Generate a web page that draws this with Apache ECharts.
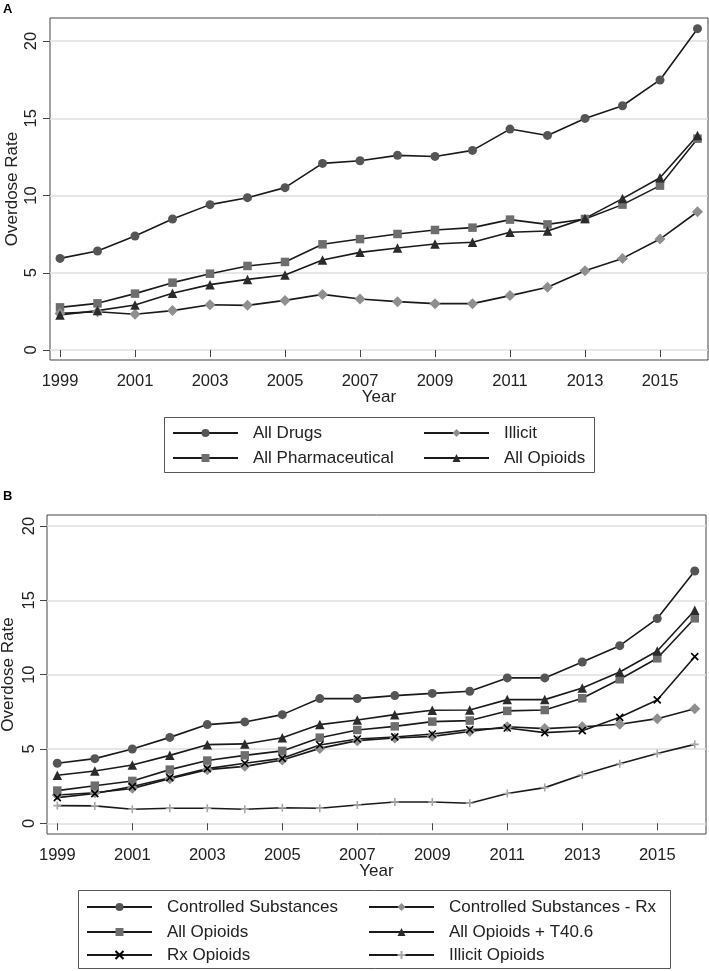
<!DOCTYPE html>
<html><head><meta charset="utf-8">
<script src="https://cdn.jsdelivr.net/npm/echarts@6/dist/echarts.min.js"></script>
<style>html,body{margin:0;padding:0;background:#fff}#c{width:709px;height:971px}</style>
</head><body><div id="c"></div>
<script>
const years = [1999,2000,2001,2002,2003,2004,2005,2006,2007,2008,2009,2010,2011,2012,2013,2014,2015,2016];
const xTickYears = [1999,2001,2003,2005,2007,2009,2011,2013,2015];
const yTickValues = [0,5,10,15,20];

// Panel A
const allDrugs = [5.93,6.41,7.38,8.48,9.41,9.86,10.51,12.08,12.25,12.60,12.53,12.92,14.30,13.89,14.99,15.81,17.48,20.80];
const allPharmaceutical = [2.76,3.02,3.65,4.36,4.94,5.44,5.70,6.84,7.18,7.51,7.77,7.92,8.44,8.13,8.48,9.41,10.64,13.68];
const illicit = [2.37,2.48,2.31,2.55,2.93,2.89,3.21,3.60,3.30,3.13,3.00,3.00,3.52,4.06,5.13,5.93,7.18,8.95];
const allOpioidsA = [2.27,2.55,2.91,3.67,4.23,4.57,4.85,5.83,6.32,6.60,6.86,6.97,7.62,7.70,8.52,9.80,11.15,13.89];

// Panel B
const controlledSubstances = [4.04,4.35,5.00,5.78,6.64,6.82,7.31,8.39,8.39,8.59,8.74,8.88,9.78,9.78,10.85,11.95,13.77,16.97];
const controlledSubstancesRx = [1.90,2.05,2.35,3.00,3.61,3.83,4.26,5.04,5.56,5.74,5.85,6.17,6.50,6.37,6.50,6.66,7.04,7.71];
const allOpioidsB = [2.20,2.53,2.85,3.61,4.22,4.57,4.87,5.76,6.28,6.52,6.84,6.91,7.56,7.62,8.41,9.69,11.10,13.79];
const allOpioidsT406 = [3.23,3.52,3.92,4.57,5.29,5.34,5.76,6.64,6.95,7.31,7.60,7.62,8.32,8.32,9.10,10.18,11.59,14.33];
const rxOpioids = [1.73,2.00,2.47,3.07,3.68,4.04,4.37,5.27,5.67,5.81,6.01,6.30,6.41,6.10,6.23,7.13,8.30,11.21];
const illicitOpioids = [1.19,1.17,0.94,1.01,1.01,0.94,1.05,1.01,1.23,1.43,1.43,1.35,2.00,2.40,3.27,4.01,4.69,5.31];

const FONT = 'Liberation Sans, Arial, sans-serif';
const LINE = '#1a1a1a';
const X_SYM = 'path://M0,0L10,10M10,0L0,10';
const PLUS_SYM = 'path://M5,0L5,10M0,5L10,5';

function series(name, vals, idx, symbol, size, color, stroke) {
  return {
    name: name, type: 'line', xAxisIndex: idx, yAxisIndex: idx,
    data: years.map((y, i) => [y, vals[i]]),
    symbol: symbol, symbolSize: size, showSymbol: true,
    lineStyle: {color: LINE, width: 1.6},
    itemStyle: stroke ? {color: color, borderColor: color, borderWidth: 1.6} : {color: color, borderWidth: 0},
    emphasis: {disabled: true}, animation: false
  };
}

function xAxis(idx, min, max) {
  return {
    type: 'value', gridIndex: idx, min: min, max: max,
    name: 'Year', nameLocation: 'middle', nameGap: 29, nameMoveOverlap: false,
    nameTextStyle: {fontSize: 17, color: '#222', fontFamily: FONT},
    axisLine: {show: false},
    axisTick: {show: true, length: 7, customValues: xTickYears, lineStyle: {color: '#444', width: 1}},
    axisLabel: {customValues: xTickYears, formatter: v => String(v), fontSize: 16.5, color: '#222', margin: 13, fontFamily: FONT},
    splitLine: {show: false}
  };
}
function yAxis(idx, min, max, gap, margin) {
  return {
    type: 'value', gridIndex: idx, min: min, max: max,
    name: 'Overdose Rate', nameLocation: 'middle', nameGap: gap, nameMoveOverlap: false,
    nameTextStyle: {fontSize: 17, color: '#222', fontFamily: FONT},
    axisLine: {show: false},
    axisTick: {show: true, length: 7, customValues: yTickValues, lineStyle: {color: '#444', width: 1}},
    axisLabel: {customValues: yTickValues, formatter: v => String(v), rotate: 90, fontSize: 16.5, color: '#222', margin: margin, fontFamily: FONT},
    splitLine: {show: true, lineStyle: {color: '#dedede', width: 1.6}}
  };
}

function leg(name, label, x, yc) {
  return {
    data: [name], left: x, top: yc - 9, orient: 'horizontal', padding: 0,
    itemWidth: 65, itemHeight: 10, selectedMode: false,
    formatter: () => label,
    textStyle: {fontSize: 17, color: '#222', lineHeight: 18, fontFamily: FONT, padding: [0, 0, 0, 10]}
  };
}

const option = {
  backgroundColor: '#fff',
  animation: false,
  grid: [
    {left: 50, top: 18, width: 658, height: 342, show: true, borderColor: '#444', borderWidth: 1, backgroundColor: '#fff', containLabel: false, outerBoundsMode: 'none'},
    {left: 47, top: 515, width: 659, height: 319, show: true, borderColor: '#444', borderWidth: 1, backgroundColor: '#fff', containLabel: false, outerBoundsMode: 'none'}
  ],
  xAxis: [xAxis(0, 1998.733, 2016.28), xAxis(1, 1998.725, 2016.3)],
  yAxis: [yAxis(0, -0.647, 21.49, 29.5, 10), yAxis(1, -0.72, 20.74, 30, 9)],
  legend: [
    leg('All Drugs', 'All Drugs', 172, 433),
    leg('All Pharmaceutical', 'All Pharmaceutical', 172, 458),
    leg('Illicit', 'Illicit', 423, 433),
    leg('All Opioids (A)', 'All Opioids', 423, 458),
    leg('Controlled Substances', 'Controlled Substances', 86, 907),
    leg('All Opioids (B)', 'All Opioids', 86, 932),
    leg('Rx Opioids', 'Rx Opioids', 86, 955),
    leg('Controlled Substances - Rx', 'Controlled Substances - Rx', 368, 907),
    leg('All Opioids + T40.6', 'All Opioids + T40.6', 368, 932),
    leg('Illicit Opioids', 'Illicit Opioids', 368, 955)
  ],
  series: [
    series('All Drugs', allDrugs, 0, 'circle', 9, '#555555'),
    series('All Pharmaceutical', allPharmaceutical, 0, 'rect', 8.5, '#6e6e6e'),
    series('Illicit', illicit, 0, 'diamond', 11, '#8f8f8f'),
    series('All Opioids (A)', allOpioidsA, 0, 'triangle', 9.5, '#2b2b2b'),
    series('Controlled Substances', controlledSubstances, 1, 'circle', 9, '#555555'),
    series('Controlled Substances - Rx', controlledSubstancesRx, 1, 'diamond', 11, '#8f8f8f'),
    series('All Opioids (B)', allOpioidsB, 1, 'rect', 8.5, '#6e6e6e'),
    series('All Opioids + T40.6', allOpioidsT406, 1, 'triangle', 9.5, '#2b2b2b'),
    series('Rx Opioids', rxOpioids, 1, X_SYM, 7, '#000000', true),
    series('Illicit Opioids', illicitOpioids, 1, PLUS_SYM, 8, '#a8a8a8', true)
  ],
  graphic: [
    {type: 'text', left: 3, top: 3, style: {text: 'A', font: 'bold 13px ' + FONT, fill: '#000'}},
    {type: 'text', left: 3, top: 490, style: {text: 'B', font: 'bold 13px ' + FONT, fill: '#000'}},
    {type: 'rect', shape: {x: 164.5, y: 417.5, width: 430, height: 55}, style: {fill: 'none', stroke: '#555', lineWidth: 1}, z: -1},
    {type: 'rect', shape: {x: 78.5, y: 890.5, width: 592, height: 78}, style: {fill: 'none', stroke: '#555', lineWidth: 1}, z: -1}
  ]
};

const chart = echarts.init(document.getElementById('c'), null, {renderer: 'canvas'});
chart.setOption(option);
</script>
</body></html>
